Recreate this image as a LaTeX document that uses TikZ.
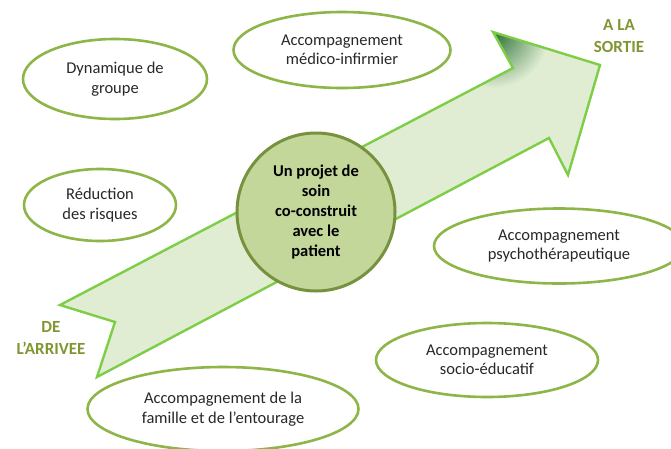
\documentclass[tikz,border=0pt]{standalone}
\usepackage{fontspec}
\setmainfont{Carlito}
\usepackage{tikz}
\usetikzlibrary{shapes.geometric, positioning}
\definecolor{ArrowGreen}{RGB}{125,205,70}
\definecolor{ArrowFill}{RGB}{224,237,211}
\definecolor{ArrowDark}{RGB}{40,110,50}
\definecolor{RingGreen}{RGB}{141,181,72}
\definecolor{CoreFill}{RGB}{196,215,155}
\definecolor{CoreLine}{RGB}{118,146,60}
\definecolor{TagOlive}{RGB}{128,150,50}
\definecolor{TextGray}{RGB}{40,40,40}

\begin{document}
\begin{tikzpicture}[
  x=1pt, y=-1pt,
  font=\fontsize{16.5}{19.5}\selectfont,
  oval/.style={ellipse, draw=RingGreen, line width=2.6pt, fill=white, align=center, text=TextGray, inner sep=0pt},
  core/.style={circle, draw=CoreLine, line width=3pt, fill=CoreFill, minimum size=158pt, align=center, font=\fontsize{16.5}{20}\selectfont\bfseries},
  tag/.style={align=center, text=TagOlive, font=\fontsize{17}{21.5}\selectfont\bfseries},
  flow/.style={draw=ArrowGreen, line width=2.4pt, line join=miter}
]
  \useasboundingbox (0,0) rectangle (671,448);

  \coordinate (tailtop) at (60,305);
  \coordinate (tailin) at (115,322);
  \coordinate (tailbot) at (97,377);
  \coordinate (headin) at (513,68);
  \coordinate (barbtop) at (493,32);
  \coordinate (tip) at (600,65);
  \coordinate (barbbot) at (568,175);
  \coordinate (headout) at (549,138);

  \fill[ArrowFill] (tailtop) -- (headin) -- (barbtop) -- (tip) -- (barbbot) -- (headout) -- (tailbot) -- (tailin) -- cycle;
  \begin{scope}
    \clip (tailtop) -- (headin) -- (barbtop) -- (tip) -- (barbbot) -- (headout) -- (tailbot) -- (tailin) -- cycle;
    \shade[inner color=ArrowDark, outer color=ArrowFill] (barbtop) circle (56);
  \end{scope}
  \draw[flow] (tailtop) -- (headin) -- (barbtop) -- (tip) -- (barbbot) -- (headout) -- (tailbot) -- (tailin) -- cycle;

  \node[oval, minimum width=184pt, minimum height=80pt] (groupe) at (115,79) {Dynamique de\\groupe};
  \node[oval, minimum width=152pt, minimum height=72pt] (risques) at (100,205) {Réduction\\des risques};
  \node[oval, minimum width=217pt, minimum height=76pt] (medico) at (342,50) {Accompagnement\\médico-infirmier};
  \node[oval, minimum width=250pt, minimum height=75pt] (psycho) at (559,246) {Accompagnement\\psychothérapeutique};
  \node[oval, minimum width=222pt, minimum height=74pt] (socio) at (487,360) {Accompagnement\\socio-éducatif};
  \node[oval, minimum width=271pt, minimum height=84pt] (famille) at (223,409) {Accompagnement de la\\famille et de l’entourage};

  \node[core] (projet) at (316,212) {Un projet de\\soin\\co-construit\\avec le\\patient};

  \node[tag] (sortie) at (619,36) {A LA\\SORTIE};
  \node[tag] (arrivee) at (51,338) {DE\\L’ARRIVEE};
\end{tikzpicture}
\end{document}
